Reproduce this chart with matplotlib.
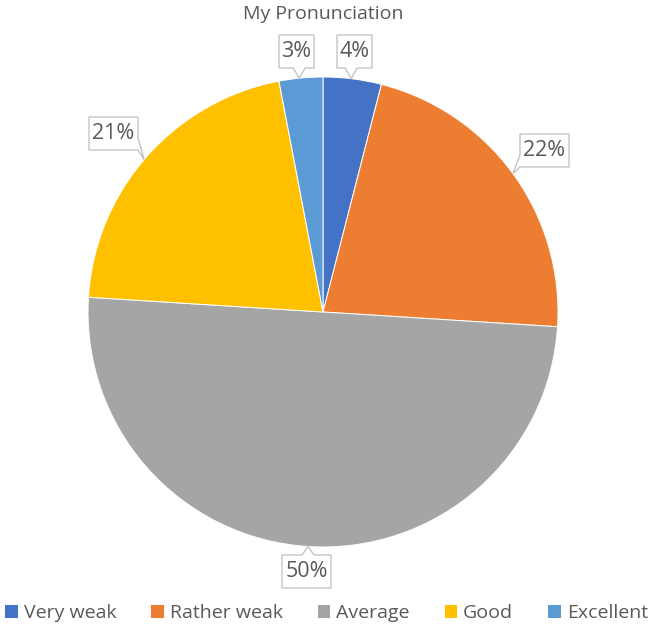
import numpy as np
import matplotlib.pyplot as plt
from matplotlib.patches import Polygon

plt.rcParams['font.family'] = ['Open Sans', 'DejaVu Sans']

categories = ['Very weak', 'Rather weak', 'Average', 'Good', 'Excellent']
shares = [4, 22, 50, 21, 3]
colors = ['#4472C4', '#ED7D31', '#A5A5A5', '#FFC000', '#5B9BD5']
title = 'My Pronunciation'

# callout boxes: centre (px, y down), width, side the pointer leaves from
box_pos = [(354.5, 51.5), (544.5, 150.5), (306.5, 571.5), (113.5, 133.5), (296.5, 51.5)]
box_side = ['bottom', 'left', 'top', 'right', 'bottom']

W, H = 652, 626
CX, CY, R = 323, 312, 235
text_col = '#595959'

fig = plt.figure(figsize=(W / 100, H / 100), dpi=100)
ax = fig.add_axes([0, 0, 1, 1])

wedges, _ = ax.pie(shares, colors=colors, startangle=90, counterclock=False,
                   center=(CX, H - CY), radius=R,
                   wedgeprops=dict(edgecolor='white', linewidth=0.7))
ax.set_xlim(0, W)
ax.set_ylim(0, H)
ax.set_aspect('equal')
ax.axis('off')


def nearest_arc_point(wedge, bx, by):
    # angle of the box centre, clamped into the wedge's span
    ang = np.degrees(np.arctan2(-(by - CY), bx - CX))
    t1, t2 = wedge.theta1, wedge.theta2
    ang = (ang - t1) % 360 + t1
    if ang > t2:
        ang = t1 if (ang - t2) > (t1 + 360 - ang) else t2
    a = np.radians(ang)
    return CX + R * np.cos(a), CY - R * np.sin(a)


def callout(label, cx, cy, side, tip, bw, bh=33, base=12):
    x0, x1 = cx - bw / 2, cx + bw / 2
    y0, y1 = cy - bh / 2, cy + bh / 2
    tx, ty = tip
    if side in ('top', 'bottom'):
        a = min(max(tx - base / 2, x0 + 2), x1 - 2 - base)
        b = a + base
    else:
        b = min(max(ty, y0 + base), y1)
        a = b - base
    pts = [(x0, y0)]
    if side == 'top':
        pts += [(a, y0), (tx, ty), (b, y0)]
    pts.append((x1, y0))
    if side == 'right':
        pts += [(x1, a), (tx, ty), (x1, b)]
    pts.append((x1, y1))
    if side == 'bottom':
        pts += [(b, y1), (tx, ty), (a, y1)]
    pts.append((x0, y1))
    if side == 'left':
        pts += [(x0, b), (tx, ty), (x0, a)]
    pts = [(px, H - py) for px, py in pts]
    ax.add_patch(Polygon(pts, closed=True, facecolor='white', edgecolor='#BFBFBF',
                         linewidth=0.9, zorder=5))
    ax.text(cx, H - cy, label, ha='center', va='center', fontsize=15.5,
            color=text_col, zorder=6)


for w, val, (bx, by), side in zip(wedges, shares, box_pos, box_side):
    label = f'{val}%'
    tip = nearest_arc_point(w, bx, by)
    callout(label, bx, by, side, tip, bw=35 if val < 10 else 49)

fig.text(CX / W, 1 - 14 / H, title, ha='center', va='center', fontsize=14, color=text_col)

leg = fig.legend(wedges, categories, loc='center', bbox_to_anchor=(0.5, 13 / H), ncol=5,
                 frameon=False, handlelength=0.7, handleheight=0.7, handletextpad=0.3,
                 columnspacing=1.75, fontsize=14, borderaxespad=0)
for t in leg.get_texts():
    t.set_color(text_col)

fig.savefig('out.png', dpi=100)
